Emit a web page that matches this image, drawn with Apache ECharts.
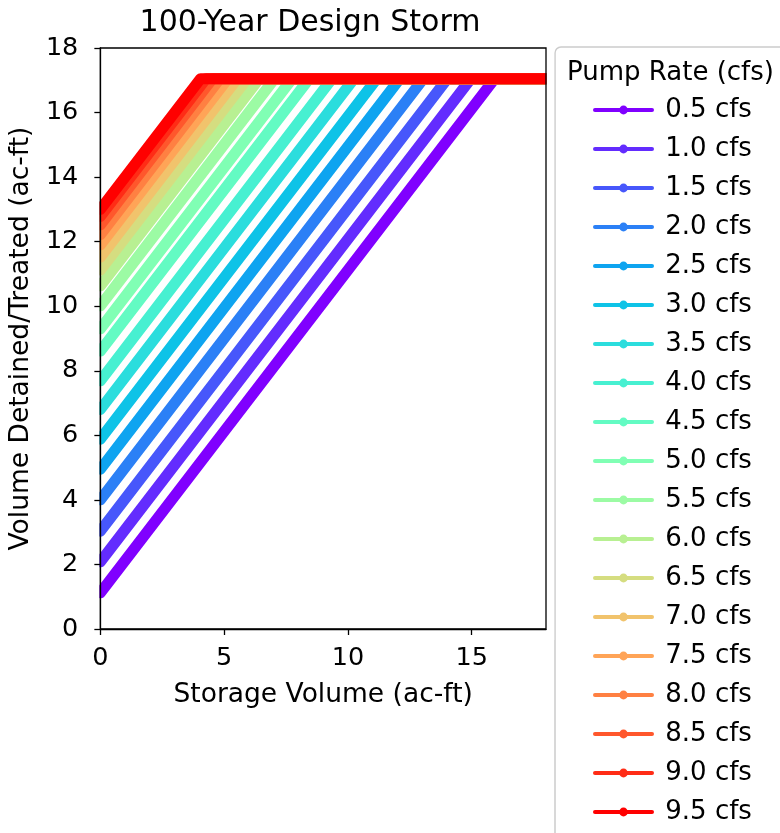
<!DOCTYPE html>
<html>
<head>
<meta charset="utf-8">
<script src="https://cdn.jsdelivr.net/npm/echarts@6/dist/echarts.min.js"></script>
<style>html,body{margin:0;padding:0;background:#fff}#c{width:780px;height:833px}</style>
</head>
<body>
<div id="c"></div>
<script>
// Pump rates (cfs) -> legend labels
var pumpRates = ['0.5','1.0','1.5','2.0','2.5','3.0','3.5','4.0','4.5','5.0','5.5','6.0','6.5','7.0','7.5','8.0','8.5','9.0','9.5'];
// Volume detained/treated at zero storage (ac-ft)
var startVolume = [1.12, 2.08, 3.03, 4.00, 4.95, 5.88, 6.80, 7.69, 8.61, 9.30, 10.01, 10.63, 11.12, 11.52, 11.90, 12.22, 12.52, 12.78, 13.00];
// Storage volume where each curve reaches the runoff total (ac-ft)
var kneeStorage = [15.93, 14.97, 14.02, 13.05, 12.10, 11.17, 10.25, 9.36, 8.44, 7.75, 7.04, 6.42, 5.93, 5.53, 5.15, 4.83, 4.53, 4.27, 4.05];
// Total runoff volume (plateau, ac-ft)
var totalVolume = 17.05;
// Storage axis end (ac-ft)
var storageMax = 18;
// Colors (matplotlib "rainbow")
var colors = ['#8000ff','#632cfe','#4757fb','#2b80f6','#0ea4f0','#0ec3e7','#2bdddd','#47f0d1','#63fbc3','#80ffb4','#9cfba4','#b8f092','#d5dd80','#f1c36c','#ffa457','#ff8042','#ff572c','#ff2c16','#ff0000'];
var xTicks = [0, 5, 10, 15];

var FONT = 'DejaVu Sans';
var series = pumpRates.map(function (p, i) {
  return {
    name: p + ' cfs',
    type: 'line',
    z: 2,
    data: [[0, startVolume[i]], [kneeStorage[i], totalVolume], [storageMax, totalVolume]],
    symbol: 'circle',
    showSymbol: false,
    clip: true,
    color: colors[i],
    lineStyle: { width: 11, color: colors[i], cap: 'round', join: 'round' },
    itemStyle: { color: colors[i], borderWidth: 0 },
    emphasis: { disabled: true },
    animation: false
  };
});

var chart = echarts.init(document.getElementById('c'), null, { renderer: 'canvas' });
chart.setOption({
  animation: false,
  grid: { left: 100, top: 48, width: 446, height: 581, show: true, z: 10, borderColor: '#000', borderWidth: 1.3, backgroundColor: 'transparent' },
  xAxis: {
    type: 'value', min: 0, max: storageMax, z: 10,
    name: 'Storage Volume (ac-ft)', nameLocation: 'middle', nameGap: 53,
    nameTextStyle: { fontFamily: FONT, fontSize: 26.5, color: '#000' },
    axisLine: { lineStyle: { color: '#000', width: 1.3 } },
    axisTick: { show: true, length: 6, lineStyle: { color: '#000', width: 1.3 }, customValues: xTicks },
    axisLabel: { fontFamily: FONT, fontSize: 25.5, color: '#000', margin: 16, customValues: xTicks },
    splitLine: { show: false }
  },
  yAxis: {
    type: 'value', min: 0, max: 18, interval: 2, z: 10,
    name: 'Volume Detained/Treated (ac-ft)', nameLocation: 'middle', nameGap: 63,
    nameTextStyle: { fontFamily: FONT, fontSize: 26.5, color: '#000' },
    axisLine: { show: true, lineStyle: { color: '#000', width: 1.3 } },
    axisTick: { show: true, length: 6, lineStyle: { color: '#000', width: 1.3 } },
    axisLabel: { fontFamily: FONT, fontSize: 25.5, color: '#000', margin: 22 },
    splitLine: { show: false }
  },
  legend: {
    orient: 'vertical', left: 588, top: 90, height: 900, itemWidth: 57, itemHeight: 11, itemGap: 9,
    textStyle: { fontFamily: FONT, fontSize: 26, color: '#000', lineHeight: 30 },
    formatter: function (n) { return ' ' + n; },
    lineStyle: { width: 4 },
    itemStyle: { borderWidth: 0 },
    selectedMode: false
  },
  graphic: [
    // masks hiding line caps that spill outside the plot frame
    { type: 'rect', z: 5, silent: true, shape: { x: 85, y: 40, width: 14.4, height: 600 }, style: { fill: '#fff' } },
    { type: 'rect', z: 5, silent: true, shape: { x: 546.7, y: 40, width: 7.5, height: 600 }, style: { fill: '#fff' } },
    { type: 'rect', z: -1, shape: { x: 555, y: 47, width: 400, height: 900, r: 6 }, style: { fill: '#fff', stroke: '#cccccc', lineWidth: 1.5 } },
    { type: 'text', x: 567, y: 73, style: { text: 'Pump Rate (cfs)', font: '26px "DejaVu Sans"', fill: '#000', align: 'left', verticalAlign: 'middle', textAlign: 'left', textVerticalAlign: 'middle' } },
    { type: 'text', x: 310, y: 23, style: { text: '100-Year Design Storm', font: '30px "DejaVu Sans"', fill: '#000', align: 'center', verticalAlign: 'middle', textAlign: 'center', textVerticalAlign: 'middle' } }
  ],
  series: series
});
</script>
</body>
</html>
